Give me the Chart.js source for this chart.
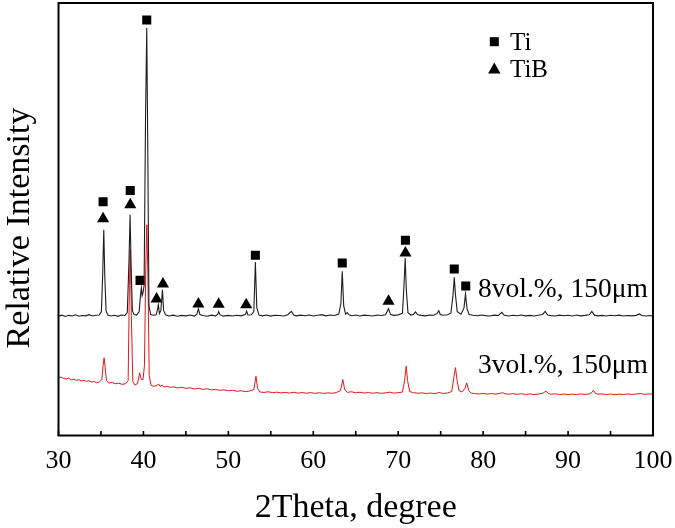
<!DOCTYPE html>
<html><head><meta charset="utf-8">
<script src="https://cdn.jsdelivr.net/npm/chart.js@4.4.1/dist/chart.umd.min.js"></script>
<style>html,body{margin:0;padding:0;background:#fff}#wrap{width:675px;height:528px;position:relative}</style>
</head><body><div id="wrap"><canvas id="c"></canvas></div>
<script>
// ---- data (intensity in arbitrary units) ----
const xTickLabels = [30, 40, 50, 60, 70, 80, 90, 100];
const xMinorTicks = [30, 35, 40, 45, 50, 55, 60, 65, 70, 75, 80, 85, 90, 95, 100];
const xTitle = '2Theta, degree';
const yTitle = 'Relative Intensity';
const seriesNames = ['8vol.%, 150μm', '3vol.%, 150μm'];
const legendNames = ['Ti', 'TiB'];

const theta8 = [30.0,30.4,30.8,31.2,31.6,32.0,32.4,32.8,33.2,33.6,34.0,34.4,34.8,35.05,35.2,35.33,35.45,35.6,35.8,36.2,36.6,37.0,37.4,37.8,38.1,38.3,38.43,38.55,38.7,38.9,39.2,39.5,39.65,39.76,39.85,39.95,40.08,40.25,40.39,40.5,40.65,40.85,41.2,41.5,41.65,41.76,41.88,42.05,42.24,42.38,42.6,43.0,43.5,44.0,44.5,45.0,45.5,46.0,46.3,46.47,46.65,47.0,47.5,48.0,48.5,48.75,48.86,49.0,49.4,50.0,50.5,51.0,51.5,52.0,52.15,52.3,52.7,53.0,53.18,53.35,53.6,54.0,54.5,55.0,55.5,56.0,56.5,57.0,57.41,57.7,58.0,58.5,59.0,59.5,60.0,60.5,61.0,61.5,62.0,62.5,63.0,63.25,63.41,63.58,63.8,64.0,64.2,64.6,65.0,65.5,66.0,66.5,67.0,67.5,68.0,68.5,68.86,69.1,69.5,70.0,70.5,70.68,70.82,70.96,71.15,71.5,71.8,72.04,72.3,72.7,73.2,73.7,74.2,74.6,74.78,74.95,75.3,75.8,76.2,76.45,76.6,76.75,76.95,77.4,77.75,77.92,78.1,78.35,78.8,79.3,79.8,80.3,80.8,81.3,81.8,82.2,82.5,83.0,83.5,84.0,84.5,85.0,85.5,86.0,86.5,87.0,87.3,87.6,88.0,88.5,89.0,89.5,90.0,90.5,91.0,91.5,92.0,92.5,92.8,93.1,93.5,94.0,94.5,95.0,95.5,96.0,96.5,97.0,97.5,98.0,98.4,98.7,99.2,99.6,100.0];
const int8 = [119.5,120.5,119.2,120.3,119.6,120.8,119.4,120.2,119.8,121.0,119.7,120.4,120.6,124,160,206,160,125,120.5,119.6,120.4,119.3,120.6,120.2,123,175,221,170,125,121,120.5,124,140,148,140,143,150,320,408,300,130,121,120.4,120.8,126,131,122,125,146,125,120.8,119.6,120.5,119.4,120.3,119.8,120.6,119.5,121.5,127,121,120.2,119.4,120.5,119.8,121.5,124,121,119.5,120.3,119.6,120.4,119.8,121,124.5,120.6,120.8,124,173.7,128,120.5,119.8,120.6,119.5,120.4,120.1,119.7,120.9,124.3,120.6,119.8,120.5,119.9,120.7,119.6,120.4,121.0,119.8,120.6,120.2,121.5,132,164.3,130,121.5,123,120.8,119.9,120.6,119.7,120.5,120.1,119.6,120.7,120.2,120.9,127,121,120.3,120.8,122.5,150,177.7,145,123,120.6,121.2,123.7,120.8,120.3,119.8,120.6,120.4,122.5,125,121.2,120.4,120.9,122.5,140,158.3,140,124,121.5,128,141.7,127,121.2,120.4,119.9,120.6,120.0,119.7,120.5,120.2,123.3,120.3,119.7,120.4,119.9,120.6,119.8,120.3,119.6,120.4,121.2,124.3,120.6,120.0,119.6,120.5,119.9,120.4,119.7,120.6,119.8,120.3,120.9,124.3,120.5,119.8,120.3,119.7,120.4,119.9,120.5,119.6,120.2,119.8,120.3,121.7,120.1,119.6,120.1,119.5];

const theta3 = [30.0,30.3,30.6,30.9,31.2,31.5,31.8,32.1,32.4,32.7,33.0,33.3,33.6,33.9,34.2,34.5,34.8,35.1,35.25,35.37,35.5,35.65,35.9,36.3,36.7,37.1,37.5,37.9,38.2,38.35,38.45,38.58,38.75,39.0,39.3,39.56,39.75,39.95,40.12,40.28,40.4,40.53,40.68,40.9,41.2,41.5,41.8,41.95,42.2,42.4,42.8,43.2,43.6,44.0,44.5,45.0,45.5,46.0,46.5,47.0,47.5,48.0,48.5,49.0,49.5,50.0,50.5,51.0,51.5,52.0,52.5,53.0,53.25,53.45,53.7,54.2,54.7,55.2,55.7,56.2,56.7,57.2,57.7,58.2,58.7,59.2,59.7,60.2,60.7,61.2,61.7,62.2,62.7,63.2,63.48,63.7,64.0,64.5,65.0,65.5,66.0,66.5,67.0,67.5,68.0,68.5,69.0,69.5,70.0,70.5,70.75,70.94,71.1,71.35,71.8,72.3,72.8,73.3,73.8,74.3,74.8,75.3,75.8,76.3,76.55,76.74,76.92,77.15,77.5,77.85,78.07,78.3,78.6,79.0,79.5,80.0,80.5,81.0,81.5,82.0,82.3,82.6,83.0,83.5,84.0,84.5,85.0,85.5,86.0,86.5,87.0,87.4,87.7,88.0,88.5,89.0,89.5,90.0,90.5,91.0,91.5,92.0,92.5,92.8,92.98,93.2,93.5,94.0,94.5,95.0,95.5,96.0,96.5,97.0,97.5,98.0,98.5,99.0,99.5,100.0];
const int3 = [57.7,58.5,57.2,56.5,57.5,55.8,56.4,55.2,55.9,54.6,55.3,54.1,54.8,53.5,54.0,52.8,53.4,56,70,77.7,68,55,52.5,53.0,51.8,52.4,51.2,51.8,55,150,186,120,54,50.5,52,62.7,56,56,70,170,211,160,60,50.2,49.3,49.8,51.5,49.2,50.5,48.6,49.1,48.2,48.7,47.6,48.3,47.2,47.7,46.6,47.2,46.2,46.8,45.7,46.1,45.2,45.7,44.8,45.3,44.3,44.8,43.9,44.5,46,59.3,47,43.6,43.1,43.8,42.9,43.4,42.6,43.2,42.5,43.3,42.4,43.0,42.3,42.9,42.2,42.8,42.1,42.7,42.3,42.9,45,56,46,43.2,43.8,42.7,43.3,42.5,43.0,42.3,42.9,42.2,42.7,43.4,42.4,42.9,43.5,55,69.3,55,44,42.9,42.3,42.7,42.0,42.5,41.9,43.0,42.1,42.6,44,58,68,56,45,43.5,47,52.7,45,42.4,42.0,41.6,42.1,41.5,42.0,41.4,42.3,42.8,41.7,41.3,41.9,41.2,41.8,41.1,41.6,41.0,41.5,42.2,44.3,42.0,41.3,41.7,41.0,41.5,40.9,41.4,41.0,41.6,41.1,41.7,43,45.3,42.4,41.3,41.7,41.0,41.5,40.9,41.4,41.0,41.6,41.1,41.5,42.0,41.2,41.6,41.3];

// phase markers (peak identification)
const tiMarkX = [35.25, 38.45, 39.6, 40.39, 53.18, 63.41, 70.85, 76.6, 77.95];
const tiMarkY = [234, 245.3, 155.3, 416, 180.5, 172.7, 195.5, 166.7, 149.7];
const tibMarkX = [35.25, 38.45, 41.55, 42.3, 46.47, 48.86, 52.1, 68.86, 70.85];
const tibMarkY = [217, 231, 136.6, 151.6, 131.6, 131.3, 130.8, 134.3, 182.6];

const FONT = '"Liberation Serif", "Times New Roman", serif';

function pts(xs, ys) { return xs.map((x, i) => ({x: x, y: ys[i]})); }

const framePlugin = {
  id: 'frame',
  afterDraw(chart) {
    const {ctx, chartArea: a, scales} = chart;
    const xs = scales.x, ys = scales.y;
    ctx.save();
    // inward ticks
    ctx.strokeStyle = '#000';
    ctx.lineWidth = 1.6;
    ctx.beginPath();
    xMinorTicks.forEach(v => {
      const px = xs.getPixelForValue(v);
      ctx.moveTo(px, a.bottom);
      ctx.lineTo(px, a.bottom - 4.5);
    });
    ctx.stroke();
    // frame
    ctx.lineWidth = 2;
    ctx.strokeRect(a.left, a.top, a.right - a.left, a.bottom - a.top);
    // series labels
    ctx.fillStyle = '#000';
    ctx.font = '27.5px ' + FONT;
    ctx.textAlign = 'right';
    ctx.textBaseline = 'middle';
    ctx.fillText(seriesNames[0], xs.getPixelForValue(99.4), ys.getPixelForValue(146));
    ctx.fillText(seriesNames[1], xs.getPixelForValue(99.4), ys.getPixelForValue(70));
    // legend
    const lx = 494.3;
    ctx.fillRect(lx - 4.5, 41.7 - 4.5, 9, 9);
    ctx.beginPath();
    ctx.moveTo(lx, 62.5);
    ctx.lineTo(lx + 6.2, 73.5);
    ctx.lineTo(lx - 6.2, 73.5);
    ctx.closePath();
    ctx.fill();
    ctx.textAlign = 'left';
    ctx.font = '25px ' + FONT;
    ctx.fillText(legendNames[0], 510, 43);
    ctx.fillText(legendNames[1], 510, 70);
    // y axis title
    ctx.translate(20, 228);
    ctx.rotate(-Math.PI / 2);
    ctx.textAlign = 'center';
    ctx.font = '34px ' + FONT;
    ctx.fillText(yTitle, 0, 0);
    ctx.restore();
  }
};

new Chart(document.getElementById('c'), {
  type: 'scatter',
  data: {
    datasets: [
      {label: seriesNames[0], data: pts(theta8, int8), showLine: true, borderColor: '#1e1e1e', borderWidth: 1.1, pointRadius: 0, tension: 0},
      {label: seriesNames[1], data: pts(theta3, int3), showLine: true, borderColor: '#e5161e', borderWidth: 1, pointRadius: 0, tension: 0},
      {label: legendNames[0], data: pts(tiMarkX, tiMarkY), pointStyle: 'rect', pointRadius: 6.4, backgroundColor: '#000', borderColor: '#000', borderWidth: 0},
      {label: legendNames[1], data: pts(tibMarkX, tibMarkY), pointStyle: 'triangle', pointRadius: 7, backgroundColor: '#000', borderColor: '#000', borderWidth: 0}
    ]
  },
  options: {
    responsive: true,
    maintainAspectRatio: false,
    animation: false,
    events: [],
    layout: {autoPadding: false, padding: {top: 3, right: 22, left: 0, bottom: 0}},
    plugins: {legend: {display: false}, tooltip: {enabled: false}},
    scales: {
      x: {
        type: 'linear', min: 30, max: 100,
        grid: {display: false, drawTicks: false},
        border: {display: false},
        ticks: {stepSize: 10, padding: 10, color: '#000', font: {family: FONT, size: 26}, maxRotation: 0, autoSkip: false,
                callback: v => xTickLabels.includes(v) ? String(v) : ''},
        title: {display: true, text: xTitle, color: '#000', font: {family: FONT, size: 34}, padding: {top: 0, bottom: 0}},
        afterFit: s => { s.height = 92.5; s.paddingLeft = 0; s.paddingRight = 0; }
      },
      y: {
        min: 0, max: 433,
        grid: {display: false, drawTicks: false},
        border: {display: false},
        ticks: {display: false},
        title: {display: false, text: yTitle},
        afterFit: s => { s.width = 58.5; s.paddingTop = 0; s.paddingBottom = 0; }
      }
    }
  },
  plugins: [framePlugin]
});
</script>
</body></html>
